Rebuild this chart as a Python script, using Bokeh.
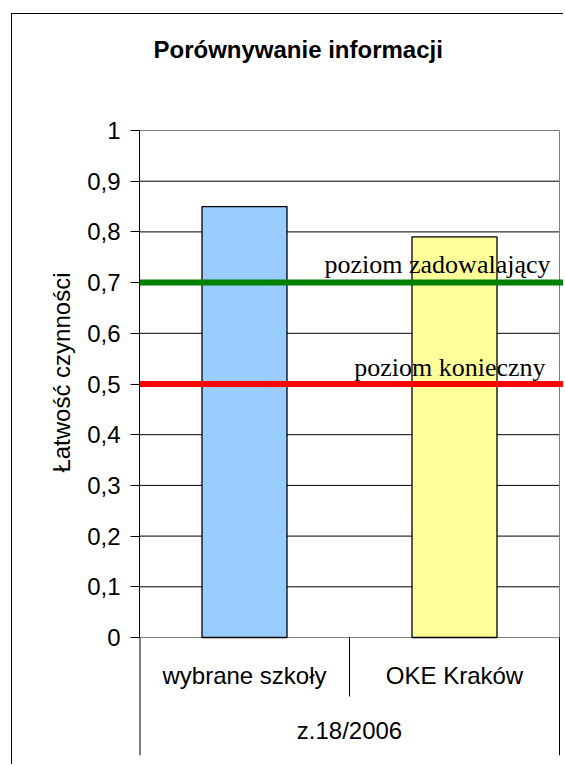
from bokeh.plotting import figure
from bokeh.models import Range1d, FixedTicker, Span, Label, Title
from bokeh.core.properties import value
from bokeh.embed import file_html
from bokeh.resources import INLINE

# ---------------- data ----------------
TITLE = "Porównywanie informacji"
Y_LABEL = "Łatwość czynności"
GROUP = "z.18/2006"
CATEGORIES = ["wybrane szkoły", "OKE Kraków"]
VALUES = [0.85, 0.79]
BAR_COLORS = ["#99CCFF", "#FFFF99"]
Y_TICKS = [0, 0.1, 0.2, 0.3, 0.4, 0.5, 0.6, 0.7, 0.8, 0.9, 1]
Y_TICK_LABELS = ["0", "0,1", "0,2", "0,3", "0,4", "0,5", "0,6", "0,7", "0,8", "0,9", "1"]
LEVELS = [0.7, 0.5]
LEVEL_NAMES = ["poziom zadowalający", "poziom konieczny"]
LEVEL_COLORS = ["#008000", "#FF0000"]

# ---------------- layout (page pixels) ----------------
OX, OY = 12, 14            # canvas origin on the page
FL, FR, FT, FB = 139, 564, 128, 755   # frame edges on the page
PLOT_R = 559               # right edge of plot area
PY0, PY1 = 637, 130        # page y of value 0 and value 1
PAGE_BOTTOM = 765
W = FR - OX
H = PAGE_BOTTOM - OY
PPU_Y = PY0 - PY1
n = len(CATEGORIES)
ppu_x = (PLOT_R - FL) / n
x_end = (FR - FL) / ppu_x
y_start = -(FB - PY0) / PPU_Y
y_end = (PY0 - FT) / PPU_Y
inner_sep_bottom = -(696 - PY0) / PPU_Y
cat_label_y = -(675 - PY0) / PPU_Y
group_label_y = -(730 - PY0) / PPU_Y

SANS = "Liberation Sans"
SERIF = "Liberation Serif"

p = figure(width=W, height=H,
           x_range=Range1d(0, x_end), y_range=Range1d(y_start, y_end),
           output_backend="svg", toolbar_location=None,
           x_axis_location=None,
           min_border_left=FL - OX, min_border_right=0,
           min_border_top=FT - OY, min_border_bottom=PAGE_BOTTOM - FB,
           outline_line_color=None,
           background_fill_color="white", border_fill_color="white")
p.margin = (OY - 1, 0, 0, OX - 1)
p.styles = {"border-left": "1px solid #000000", "border-top": "1px solid #000000"}

# title (outermost) with an empty spacer between it and the frame
p.title.text = TITLE
p.title.text_font = SANS
p.title.text_font_style = "bold"
p.title.text_font_size = "24px"
p.title.text_color = "black"
p.title.align = "left"
p.title.offset = 14
p.title.standoff = 0
p.add_layout(Title(text=" ", text_font_size="1px", standoff=63), "above")

# y axis
ax = p.yaxis[0]
ax.ticker = FixedTicker(ticks=Y_TICKS)
ax.bounds = (Y_TICKS[0], Y_TICKS[-1])
ax.major_label_overrides = {t: s for t, s in zip(Y_TICKS, Y_TICK_LABELS)}
ax.axis_line_color = "black"
ax.axis_line_width = 1
ax.major_tick_line_color = "black"
ax.major_tick_out = 9
ax.major_tick_in = 0
ax.minor_tick_out = 0
ax.minor_tick_in = 0
ax.major_label_text_font = SANS
ax.major_label_text_font_size = "24px"
ax.major_label_text_color = "black"
ax.major_label_standoff = 10

# y-axis title placed along the left side
p.add_layout(Title(text=Y_LABEL, text_font=SANS, text_font_style="normal",
                   text_font_size="24px", text_color="black",
                   align="right", offset=144, standoff=20), "left")

# grids drawn over the plot area only
for g in p.grid:
    g.visible = False
inner = Y_TICKS[1:-1]
p.segment(x0=[0] * len(inner), y0=inner, x1=[n] * len(inner), y1=inner,
          line_color="black", line_width=1)
edges = [Y_TICKS[0], Y_TICKS[-1]]
p.segment(x0=[0, 0], y0=edges, x1=[n, n], y1=edges, line_color="#808080", line_width=1)

# plot-area right border and category separators
p.segment(x0=[n], y0=[Y_TICKS[0]], x1=[n], y1=[Y_TICKS[-1]], line_color="#808080", line_width=1)
p.segment(x0=[0, n], y0=[y_start, y_start], x1=[0, n], y1=[Y_TICKS[0], Y_TICKS[0]],
          line_color="black", line_width=[2, 1])
p.segment(x0=list(range(1, n)), y0=[Y_TICKS[0]] * (n - 1),
          x1=list(range(1, n)), y1=[inner_sep_bottom] * (n - 1),
          line_color="black", line_width=1)

# bars
centers = [i + 0.5 for i in range(n)]
p.vbar(x=centers, top=VALUES, bottom=0, width=85 / ppu_x,
       fill_color=BAR_COLORS, line_color="black", line_width=1.3)

# category labels
p.text(x=centers, y=[cat_label_y] * n, text=CATEGORIES,
       text_align="center", text_baseline="middle",
       text_font=value(SANS), text_font_size="24px", text_color="black")
p.text(x=[n / 2], y=[group_label_y], text=[GROUP],
       text_align="center", text_baseline="middle",
       text_font=value(SANS), text_font_size="24px", text_color="black")

# reference levels
label_right_px = [550, 545]
label_offsets = [18, 17]
for lvl, name, col, rpx, off in zip(LEVELS, LEVEL_NAMES, LEVEL_COLORS, label_right_px, label_offsets):
    p.add_layout(Span(location=lvl, dimension="width", line_color=col, line_width=6))
    p.add_layout(Label(x=(rpx - FL) / ppu_x, y=lvl, y_offset=off, text=name,
                       text_align="right", text_baseline="alphabetic",
                       text_font=SERIF, text_font_size="26px", text_color="black"))

open("out.html", "w").write(file_html(p, INLINE))
